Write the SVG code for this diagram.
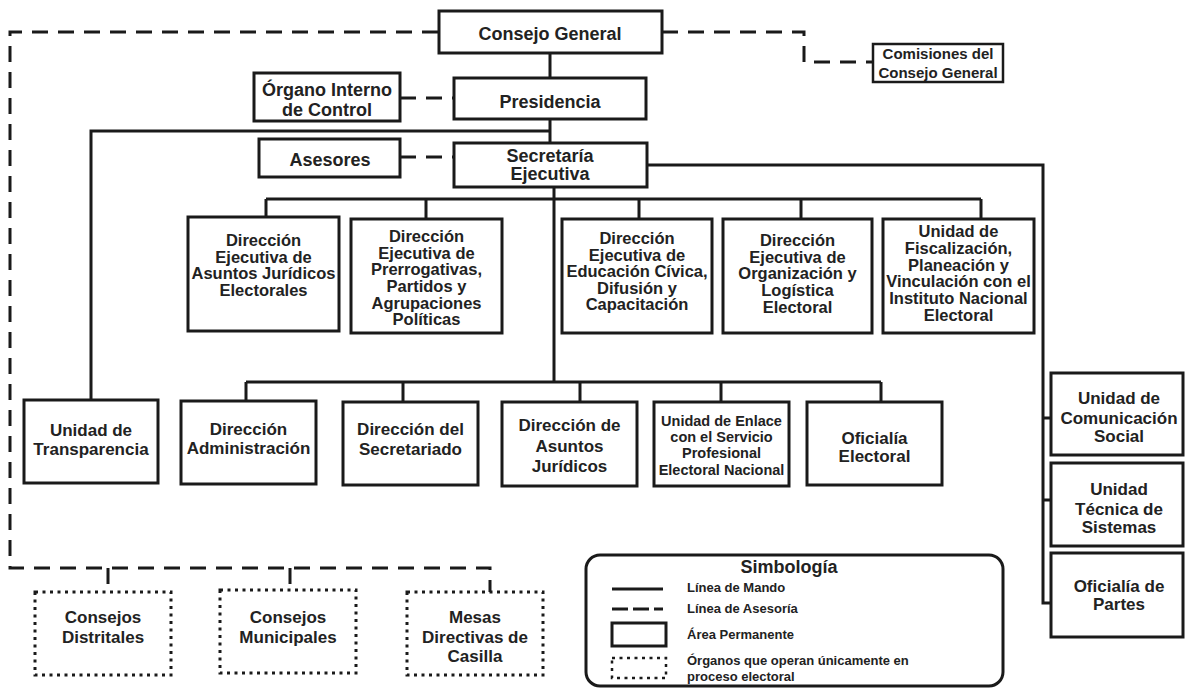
<svg xmlns="http://www.w3.org/2000/svg" width="1185" height="688" viewBox="0 0 1185 688">
<style>
.b{fill:#fff;stroke:#1a1a1a;stroke-width:3}
.d{fill:#fff;stroke:#1a1a1a;stroke-width:3;stroke-dasharray:3 4.5}
.s{fill:none;stroke:#1a1a1a;stroke-width:3}
.k{fill:none;stroke:#1a1a1a;stroke-width:3;stroke-dasharray:16 10}
text{font-family:"Liberation Sans",Arial,sans-serif;font-weight:bold;fill:#222;text-anchor:middle}
.t18{font-size:18px}
.t165{font-size:16.5px}
.t17{font-size:17px}
.t145{font-size:14.5px}
.t15{font-size:15px}
.lg{font-size:13px;text-anchor:start}
</style>
<rect width="1185" height="688" fill="#fff"/>
<g id="connectors">
<path class="s" d="M550 53V78M550 119V143M550 131H91V400M647 165H1043V603H1051M1043 418H1051M1043 500H1051M554 187V382M266 199H981M266 199V217M426 199V219M639 199V219M801 199V219M981 199V219M246 382H881M246 382V401M403 382V402M580 382V402M721 382V402M881 382V402"/>
<path class="k" d="M438 32H10V568H490V592M108 568V592M290 568V590M662 32H804V62H873M400 98H454M400 157H454"/>
</g>
<g id="consejo-general"><rect class="b" x="439" y="11" width="223" height="42"/><text class="t18" x="550" y="40">Consejo General</text></g>
<g id="comisiones"><rect class="b" x="873" y="44" width="130" height="38" style="stroke-width:2.5"/><text class="t15" x="938" y="59">Comisiones del</text><text class="t15" x="938" y="78">Consejo General</text></g>
<g id="organo-interno"><rect class="b" x="254" y="73" width="146" height="48"/><text class="t18" x="327" y="96">Órgano Interno</text><text class="t18" x="327" y="116">de Control</text></g>
<g id="presidencia"><rect class="b" x="454" y="78" width="192" height="41"/><text class="t18" x="550" y="108">Presidencia</text></g>
<g id="asesores"><rect class="b" x="259" y="139" width="141" height="38"/><text class="t18" x="330" y="166">Asesores</text></g>
<g id="secretaria"><rect class="b" x="454" y="143" width="193" height="44"/><text class="t18" x="550" y="162">Secretaría</text><text class="t18" x="550" y="180">Ejecutiva</text></g>
<g id="de-asuntos-juridicos"><rect class="b" x="188" y="217" width="151" height="114"/><text class="t165" x="263.5" y="246">Dirección</text><text class="t165" x="263.5" y="263">Ejecutiva de</text><text class="t165" x="263.5" y="279">Asuntos Jurídicos</text><text class="t165" x="263.5" y="296">Electorales</text></g>
<g id="de-prerrogativas"><rect class="b" x="351" y="219" width="151" height="114"/><text class="t165" x="426.5" y="242">Dirección</text><text class="t165" x="426.5" y="259">Ejecutiva de</text><text class="t165" x="426.5" y="275">Prerrogativas,</text><text class="t165" x="426.5" y="292">Partidos y</text><text class="t165" x="426.5" y="309">Agrupaciones</text><text class="t165" x="426.5" y="325">Políticas</text></g>
<g id="de-educacion"><rect class="b" x="562" y="219" width="150" height="114"/><text class="t165" x="637" y="244">Dirección</text><text class="t165" x="637" y="261">Ejecutiva de</text><text class="t165" x="637" y="277">Educación Cívica,</text><text class="t165" x="637" y="294">Difusión y</text><text class="t165" x="637" y="310">Capacitación</text></g>
<g id="de-organizacion"><rect class="b" x="723" y="219" width="149" height="114"/><text class="t165" x="797.5" y="246">Dirección</text><text class="t165" x="797.5" y="263">Ejecutiva de</text><text class="t165" x="797.5" y="279">Organización y</text><text class="t165" x="797.5" y="296">Logística</text><text class="t165" x="797.5" y="313">Electoral</text></g>
<g id="fiscalizacion"><rect class="b" x="883" y="219" width="151" height="114"/><text class="t165" x="958.5" y="237">Unidad de</text><text class="t165" x="958.5" y="254">Fiscalización,</text><text class="t165" x="958.5" y="271">Planeación y</text><text class="t165" x="958.5" y="287">Vinculación con el</text><text class="t165" x="958.5" y="304">Instituto Nacional</text><text class="t165" x="958.5" y="321">Electoral</text></g>
<g id="transparencia"><rect class="b" x="24" y="400" width="134" height="83"/><text class="t17" x="91" y="436">Unidad de</text><text class="t17" x="91" y="455">Transparencia</text></g>
<g id="administracion"><rect class="b" x="181" y="401" width="135" height="83"/><text class="t17" x="248.5" y="435">Dirección</text><text class="t17" x="248.5" y="454">Administración</text></g>
<g id="secretariado"><rect class="b" x="343" y="402" width="135" height="83"/><text class="t17" x="410.5" y="435">Dirección del</text><text class="t17" x="410.5" y="455">Secretariado</text></g>
<g id="asuntos-juridicos"><rect class="b" x="502" y="402" width="135" height="84"/><text class="t17" x="569.5" y="431">Dirección de</text><text class="t17" x="569.5" y="452">Asuntos</text><text class="t17" x="569.5" y="472">Jurídicos</text></g>
<g id="enlace"><rect class="b" x="654" y="402" width="135" height="84"/><text class="t145" x="721.5" y="426">Unidad de Enlace</text><text class="t145" x="721.5" y="442">con el Servicio</text><text class="t145" x="721.5" y="458">Profesional</text><text class="t145" x="721.5" y="475">Electoral Nacional</text></g>
<g id="oficialia-electoral"><rect class="b" x="807" y="402" width="135" height="83"/><text class="t17" x="874.5" y="444">Oficialía</text><text class="t17" x="874.5" y="462">Electoral</text></g>
<g id="comunicacion"><rect class="b" x="1051" y="373" width="132" height="82"/><text class="t17" x="1119" y="404">Unidad de</text><text class="t17" x="1119" y="424">Comunicación</text><text class="t17" x="1119" y="442">Social</text></g>
<g id="sistemas"><rect class="b" x="1051" y="463" width="132" height="83"/><text class="t17" x="1119" y="495">Unidad</text><text class="t17" x="1119" y="515">Técnica de</text><text class="t17" x="1119" y="533">Sistemas</text></g>
<g id="oficialia-partes"><rect class="b" x="1051" y="553" width="132" height="84"/><text class="t17" x="1119" y="592">Oficialía de</text><text class="t17" x="1119" y="610">Partes</text></g>
<g id="distritales"><rect class="d" x="35" y="592" width="136" height="83"/><text class="t17" x="103" y="623">Consejos</text><text class="t17" x="103" y="643">Distritales</text></g>
<g id="municipales"><rect class="d" x="220" y="590" width="136" height="83"/><text class="t17" x="288" y="623">Consejos</text><text class="t17" x="288" y="643">Municipales</text></g>
<g id="mesas"><rect class="d" x="407" y="592" width="136" height="83"/><text class="t17" x="475" y="623">Mesas</text><text class="t17" x="475" y="643">Directivas de</text><text class="t17" x="475" y="662">Casilla</text></g>
<g id="simbologia">
<rect class="b" x="586" y="555" width="417" height="131" rx="14"/>
<text class="t18" x="789" y="573">Simbología</text>
<path class="s" d="M612 589H663"/>
<path class="s" d="M612 609H663" style="stroke-dasharray:16 5"/>
<rect class="b" x="612" y="623" width="54" height="23"/>
<rect class="d" x="612" y="658" width="54" height="20" style="stroke-width:2.5"/>
<text class="lg" x="687" y="592">Línea de Mando</text>
<text class="lg" x="687" y="613">Línea de Asesoría</text>
<text class="lg" x="687" y="639">Área Permanente</text>
<text class="lg" x="687" y="665">Órganos que operan únicamente en</text>
<text class="lg" x="687" y="681">proceso electoral</text>
</g>
</svg>
